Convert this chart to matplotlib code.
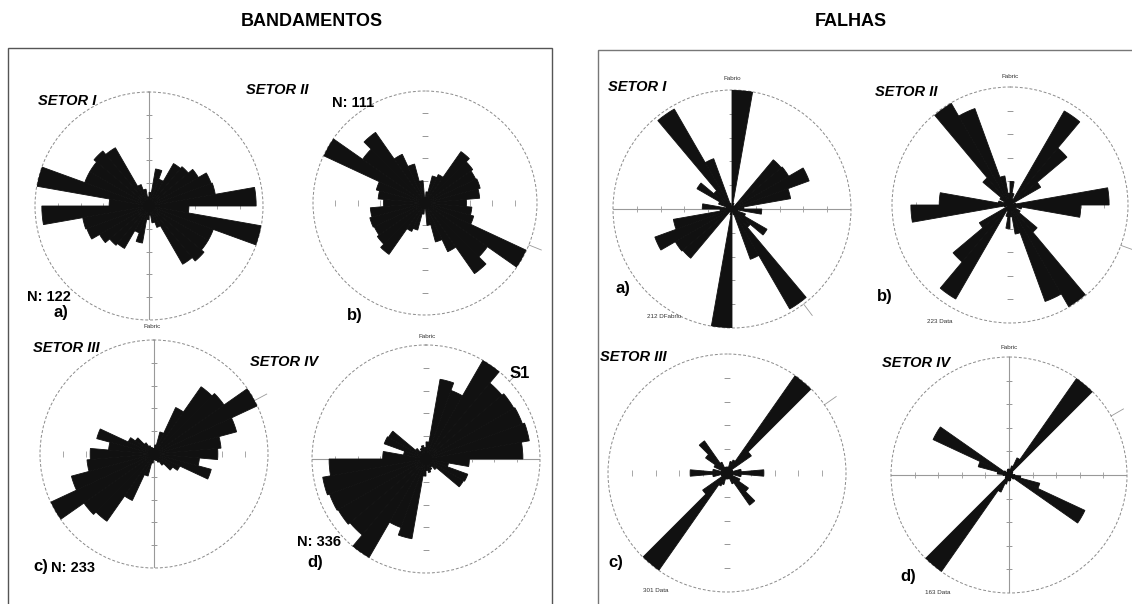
import numpy as np
import matplotlib
matplotlib.use("Agg")
import matplotlib.pyplot as plt
from matplotlib.patches import Rectangle

plt.rcParams['font.family'] = ['Liberation Sans', 'DejaVu Sans']

W, H = 1132, 604

# frequencia relativa por classe de 10 graus (0-180, espelhado em 180-360)
band_s1 = [0.12, 0.33, 0.25, 0.43, 0.45, 0.50, 0.58, 0.59, 0.94, 0.35,
           1.00, 0.60, 0.60, 0.63, 0.59, 0.20, 0.15, 0.08]
band_s2 = [0.05, 0.10, 0.25, 0.28, 0.56, 0.52, 0.50, 0.51, 0.49, 0.37,
           0.42, 0.45, 1.00, 0.68, 0.77, 0.48, 0.36, 0.20]
band_s3 = [0.05, 0.08, 0.20, 0.45, 0.72, 0.75, 1.00, 0.75, 0.59, 0.56,
           0.40, 0.52, 0.25, 0.20, 0.12, 0.08, 0.06, 0.05]
band_s4 = [0.15, 0.71, 0.64, 1.00, 0.87, 0.89, 0.90, 0.92, 0.85, 0.38,
           0.20, 0.39, 0.38, 0.12, 0.08, 0.10, 0.12, 0.10]
falha_s1 = [1.00, 0.05, 0.02, 0.03, 0.54, 0.55, 0.69, 0.50, 0.10, 0.25,
            0.05, 0.12, 0.34, 0.20, 0.97, 0.45, 0.05, 0.02]
falha_s2 = [0.20, 0.10, 0.05, 0.92, 0.63, 0.30, 0.00, 0.05, 0.84, 0.60,
            0.10, 0.05, 0.10, 0.30, 1.00, 0.87, 0.25, 0.10]
falha_s3 = [0.05, 0.05, 0.10, 0.12, 1.00, 0.25, 0.05, 0.05, 0.12, 0.31,
            0.12, 0.05, 0.12, 0.22, 0.33, 0.10, 0.05, 0.05]
falha_s4 = [0.05, 0.04, 0.08, 0.16, 1.00, 0.04, 0.03, 0.03, 0.03, 0.05,
            0.10, 0.27, 0.71, 0.05, 0.03, 0.03, 0.04, 0.05]

# inicio da primeira classe (graus)
bin_start = [0, -5, -5, 0, 0, 0, -5, -5]
# direcao media (marca fora do circulo)
mean_dir = [None, 112, 62, 47, 143, 110, 55, 60]

roses = [band_s1, band_s2, band_s3, band_s4, falha_s1, falha_s2, falha_s3, falha_s4]
centers = [(149, 206), (425, 203), (154, 454), (426, 459),
           (732, 209), (1010, 205), (727, 473), (1009, 475)]
radii = [114, 112, 114, 114, 119, 118, 119, 118]
# linhas de referencia: v = vertical, h = horizontal
ref_lines = ['v', '', 'v', 'h', 'h', '', '', 'hv']

fig = plt.figure(figsize=(W / 100, H / 100), dpi=100)


def fx(x):
    return x / W


def fy(y):
    return 1 - y / H


# molduras dos dois paineis
fig.patches.append(Rectangle((fx(8), fy(640)), fx(552 - 8), fy(48) - fy(640),
                             transform=fig.transFigure, fill=False,
                             edgecolor='#555555', lw=1.0))
fig.patches.append(Rectangle((fx(598), fy(640)), fx(1160 - 598), fy(50) - fy(640),
                             transform=fig.transFigure, fill=False,
                             edgecolor='#777777', lw=1.0))

for vals, start, md, (cx, cy), r, lines in zip(roses, bin_start, mean_dir,
                                                 centers, radii, ref_lines):
    ax = fig.add_axes([fx(cx - r), fy(cy + r), 2 * r / W, 2 * r / H],
                      projection='polar')
    ax.set_theta_zero_location('N')
    ax.set_theta_direction(-1)
    full = np.concatenate([vals, vals])
    theta = np.radians(np.arange(36) * 10 + start)
    ax.bar(theta, full, width=np.radians(10), align='edge',
           color='#111111', edgecolor='#111111', linewidth=0.6, zorder=3)
    ax.set_ylim(0, 1)
    ax.set_xticks([])
    ax.set_yticks([])
    ax.grid(False)
    ax.patch.set_alpha(0)
    ax.spines['polar'].set_linestyle((0, (2, 3)))
    ax.spines['polar'].set_color('#8a8a8a')
    ax.spines['polar'].set_linewidth(0.7)

    ticks = [0.2, 0.4, 0.6, 0.8]
    for a in [0, np.pi]:
        if 'v' in lines:
            ax.plot([a, a], [0, 1], color='#999999', lw=0.8, zorder=1)
        ax.plot([a] * 4, ticks, ls='none', marker='_', ms=4,
                color='#999999', mew=0.6, zorder=1)
    for a in [np.pi / 2, 3 * np.pi / 2]:
        if 'h' in lines:
            ax.plot([a, a], [0, 1], color='#999999', lw=0.8, zorder=1)
        ax.plot([a] * 4, ticks, ls='none', marker='|', ms=4,
                color='#999999', mew=0.6, zorder=1)
    if md is not None:
        ax.plot([np.radians(md)] * 2, [1.0, 1.12], color='#999999',
                lw=0.6, clip_on=False)

# titulos
fig.text(fx(312), fy(22), 'BANDAMENTOS', ha='center', va='center',
         fontsize=13, fontweight='bold')
fig.text(fx(851), fy(22), 'FALHAS', ha='center', va='center',
         fontsize=13, fontweight='bold')

setor = [('SETOR I', 38, 101), ('SETOR II', 246, 90), ('SETOR III', 33, 348),
         ('SETOR IV', 250, 362), ('SETOR I', 608, 87), ('SETOR II', 875, 92),
         ('SETOR III', 600, 357), ('SETOR IV', 882, 363)]
for s, x, y in setor:
    fig.text(fx(x), fy(y), s, ha='left', va='center', fontsize=10.5,
             fontweight='bold', style='italic')

n_labels = [('N: 111', 332, 103), ('N: 122', 27, 297), ('N: 233', 51, 568),
            ('N: 336', 297, 542)]
for s, x, y in n_labels:
    fig.text(fx(x), fy(y), s, ha='left', va='center', fontsize=10.5,
             fontweight='bold')

letters = [('a)', 53, 312), ('b)', 347, 315), ('c)', 33, 566), ('d)', 307, 562),
           ('a)', 615, 288), ('b)', 877, 297), ('c)', 608, 563), ('d)', 900, 577)]
for s, x, y in letters:
    fig.text(fx(x), fy(y), s, ha='left', va='center', fontsize=12,
             fontweight='bold')

fig.text(fx(510), fy(373), 'S1', ha='left', va='center', fontsize=12,
         fontweight='bold')

small = [('Fabric', 152, 327, 'center'), ('Fabric', 427, 337, 'center'),
         ('Fabrio', 732, 78, 'center'), ('Fabric', 1010, 77, 'center'),
         ('Fabric', 1009, 348, 'center'), ('212 DFabrio', 647, 317, 'left'),
         ('223 Data', 927, 322, 'left'), ('301 Data', 643, 591, 'left'),
         ('163 Data', 925, 593, 'left')]
for s, x, y, ha in small:
    fig.text(fx(x), fy(y), s, ha=ha, va='center', fontsize=4.5, color='#333333')

fig.savefig('out.png', dpi=100)
